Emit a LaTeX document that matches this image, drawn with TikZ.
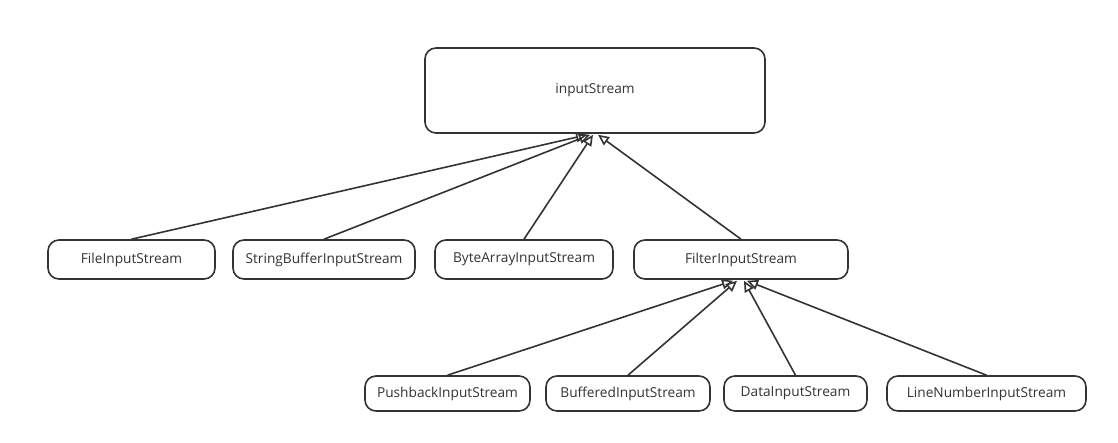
\documentclass[tikz,border=0pt]{standalone}
\usepackage{fontspec}
\setmainfont{Open Sans}
\usetikzlibrary{arrows.meta}
\definecolor{linegray}{HTML}{333333}
\tikzset{
	classbox/.style={draw=linegray,line width=1.6pt,rounded corners=11pt,inner sep=0pt,font=\fontsize{13.7}{15}\selectfont,text=linegray},
	inherit/.style={draw=linegray,line width=1.6pt,-{Triangle[open,length=11pt,width=10pt]}},
}
\begin{document}
\begin{tikzpicture}[x=1pt,y=-1pt]
		\useasboundingbox (0,0) rectangle (1118,443);
		\node[classbox,minimum width=340pt,minimum height=85pt] (top) at (595,90.5) {inputStream};
		\node[classbox,minimum width=167pt,minimum height=39pt] (fis) at (131.5,259.5) {FileInputStream};
		\node[classbox,minimum width=182pt,minimum height=39pt] (sbis) at (324,259.5) {StringBufferInputStream};
		\node[classbox,minimum width=178pt,minimum height=39pt] (bais) at (524,259.5) {ByteArrayInputStream};
		\node[classbox,minimum width=214pt,minimum height=39pt] (filter) at (741,259.5) {FilterInputStream};
		\node[classbox,minimum width=165pt,minimum height=35pt] (pbis) at (447.5,393.5) {PushbackInputStream};
		\node[classbox,minimum width=164pt,minimum height=35pt] (bis) at (628,393.5) {BufferedInputStream};
		\node[classbox,minimum width=143pt,minimum height=35pt] (dis) at (795.5,393.5) {DataInputStream};
		\node[classbox,minimum width=199pt,minimum height=35pt] (lnis) at (986.5,393.5) {LineNumberInputStream};
		% first level
		\draw[inherit] (fis.north) -- ([xshift=-8pt,yshift=-1pt]top.south);
		\draw[inherit] (sbis.north) -- ([xshift=-5pt,yshift=-1pt]top.south);
		\draw[inherit] (bais.north) -- ([xshift=-2pt,yshift=-1pt]top.south);
		\draw[inherit] (filter.north) -- ([xshift=3pt,yshift=-1pt]top.south);
		% second level
		\draw[inherit] (pbis.north) -- ([xshift=-8pt,yshift=-1pt]filter.south);
		\draw[inherit] (bis.north) -- ([xshift=-4pt,yshift=-1pt]filter.south);
		\draw[inherit] (dis.north) -- ([xshift=3pt,yshift=-1pt]filter.south);
		\draw[inherit] (lnis.north) -- ([xshift=6pt,yshift=-1pt]filter.south);
	\end{tikzpicture}
\end{document}
